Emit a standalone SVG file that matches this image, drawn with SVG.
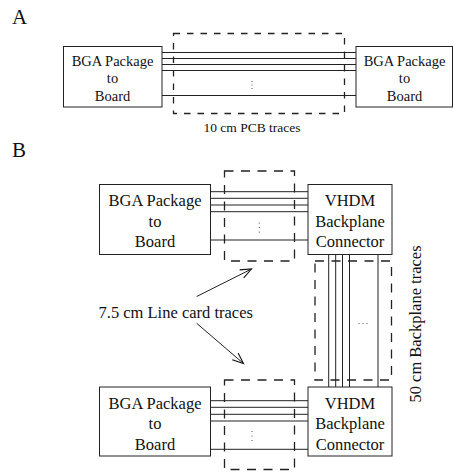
<svg xmlns="http://www.w3.org/2000/svg" width="453" height="474" viewBox="0 0 453 474">
<style>
text{font-family:"Liberation Serif","Times New Roman",serif;fill:#111}
.box{fill:#fff;stroke:#222;stroke-width:1}
.ln{stroke:#222;stroke-width:1;fill:none}
.dashA{fill:none;stroke:#222;stroke-width:1.3;stroke-dasharray:6.5 7}
.dashB{fill:none;stroke:#222;stroke-width:1.3;stroke-dasharray:9 7.5}
.a{font-size:14.5px;text-anchor:middle}
.b{font-size:16.5px;text-anchor:middle}
.dot{fill:#444}
</style>
<defs>
<marker id="arr" markerWidth="14" markerHeight="12" refX="12" refY="5" orient="auto" markerUnits="userSpaceOnUse">
<path d="M1,0.5 L12,5 L1,9.5" fill="none" stroke="#111" stroke-width="1.1"/>
</marker>
</defs>
<text x="12" y="24" style="font-size:21px">A</text>
<text x="12" y="157" style="font-size:21px">B</text>
<g id="connectors">
<!-- part A traces -->
<path class="ln" d="M162,52.5H356M162,58.5H356M162,64.5H356M162,70.5H356M162,95.5H356"/>
<rect class="dashA" x="173.5" y="33.5" width="171" height="80"/>
<circle class="dot" cx="252" cy="81.5" r="0.6"/><circle class="dot" cx="252" cy="85" r="0.6"/><circle class="dot" cx="252" cy="88.5" r="0.6"/>
<!-- part B upper traces -->
<path class="ln" d="M211,191.7H308M211,198.3H308M211,205H308M211,211.7H308M211,240H308"/>
<rect class="dashB" x="224.5" y="171" width="70" height="90"/>
<circle class="dot" cx="259.3" cy="223" r="0.6"/><circle class="dot" cx="259.3" cy="227.5" r="0.6"/><circle class="dot" cx="259.3" cy="232" r="0.6"/>
<!-- part B lower traces -->
<path class="ln" d="M211,400.7H308M211,407.3H308M211,414.3H308M211,421H308M211,449.3H308"/>
<rect class="dashB" x="224.5" y="380" width="70" height="89.5"/>
<circle class="dot" cx="252" cy="431.5" r="0.6"/><circle class="dot" cx="252" cy="436" r="0.6"/><circle class="dot" cx="252" cy="440.5" r="0.6"/>
<!-- backplane traces -->
<path class="ln" d="M328.7,254V387M335.7,254V387M342.5,254V387M349.5,254V387M378,254V387"/>
<rect class="dashB" x="315" y="261" width="76.5" height="119"/>
<circle class="dot" cx="359" cy="323.5" r="0.6"/><circle class="dot" cx="363" cy="323.5" r="0.6"/><circle class="dot" cx="367" cy="323.5" r="0.6"/>
<!-- arrows -->
<line class="ln" x1="196.7" y1="296.5" x2="251.5" y2="269" marker-end="url(#arr)"/>
<line class="ln" x1="196.7" y1="323.3" x2="243.5" y2="363.5" marker-end="url(#arr)"/>
</g>
<g id="a-left">
<rect class="box" x="63.5" y="46.5" width="98.5" height="60.5"/>
<text class="a" x="112.5" y="65.5">BGA Package</text>
<text class="a" x="112.5" y="83">to</text>
<text class="a" x="112.5" y="100.5">Board</text>
</g>
<g id="a-right">
<rect class="box" x="356" y="46.5" width="96.5" height="60.5"/>
<text class="a" x="404.5" y="65.5">BGA Package</text>
<text class="a" x="404.5" y="83">to</text>
<text class="a" x="404.5" y="100.5">Board</text>
</g>
<text class="a" x="252" y="131.5" style="font-size:13.5px">10 cm PCB traces</text>
<g id="b-bga-top">
<rect class="box" x="99.5" y="184.5" width="111" height="70"/>
<text class="b" x="155" y="206">BGA Package</text>
<text class="b" x="155" y="226.8">to</text>
<text class="b" x="155" y="247.3">Board</text>
</g>
<g id="b-vhdm-top">
<rect class="box" x="308" y="184.5" width="84" height="70"/>
<text class="b" x="350" y="206">VHDM</text>
<text class="b" x="350" y="226.8">Backplane</text>
<text class="b" x="350" y="247.3">Connector</text>
</g>
<g id="b-bga-bottom">
<rect class="box" x="99.5" y="387" width="111" height="69"/>
<text class="b" x="155" y="408.5">BGA Package</text>
<text class="b" x="155" y="429.3">to</text>
<text class="b" x="155" y="449.5">Board</text>
</g>
<g id="b-vhdm-bottom">
<rect class="box" x="308" y="387" width="84" height="69"/>
<text class="b" x="350" y="408.5">VHDM</text>
<text class="b" x="350" y="429.3">Backplane</text>
<text class="b" x="350" y="449.5">Connector</text>
</g>
<text x="98.5" y="317.5" style="font-size:16.5px">7.5 cm Line card traces</text>
<text class="b" transform="translate(420.5,324) rotate(-90)">50 cm Backplane traces</text>
</svg>
